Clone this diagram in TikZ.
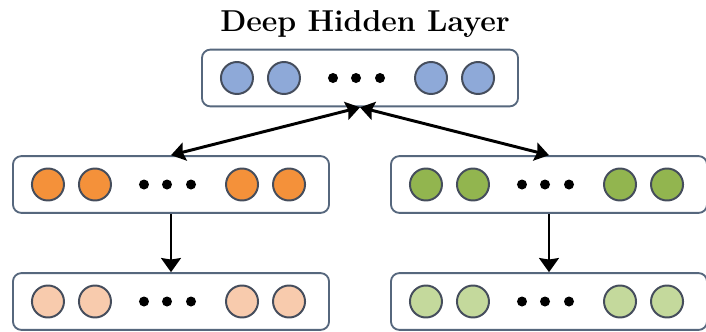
\documentclass[tikz,border=0pt]{standalone}
\usepackage{xcolor}
\usetikzlibrary{arrows.meta,positioning}

\definecolor{boxline}{HTML}{56677D}
\definecolor{unitline}{HTML}{454D5C}
\definecolor{deepblue}{HTML}{8EA9D8}
\definecolor{orangeA}{HTML}{F4913A}
\definecolor{orangeB}{HTML}{F8CBAD}
\definecolor{greenA}{HTML}{92B54F}
\definecolor{greenB}{HTML}{C4D99C}

\tikzset{
  layerbox/.style={draw=boxline,line width=1.3pt,rounded corners=6pt,fill=white,
    minimum width=7.9cm,minimum height=1.42cm,inner sep=0pt},
  unit/.style={circle,draw=unitline,line width=1.4pt,minimum size=0.8cm,inner sep=0pt},
  dot/.style={circle,fill=black,minimum size=0.25cm,inner sep=0pt},
  link/.style={line width=2.1pt,{Stealth[length=10pt,width=13pt,inset=1.5pt]}-{Stealth[length=10pt,width=13pt,inset=1.5pt]}},
  down/.style={line width=2.1pt,-{Stealth[length=10pt,width=14pt,inset=1pt]}}
}

% one row of units inside a box: #1 box name, #2 unit colour
\newcommand{\unitrow}[2]{%
  \node[unit,fill=#2] (#1u1) at ([xshift=-3.075cm]#1.center) {};
  \node[unit,fill=#2] (#1u2) at ([xshift=-1.9cm]#1.center) {};
  \node[dot] (#1d1) at ([xshift=-0.675cm]#1.center) {};
  \node[dot] (#1d2) at ([xshift=-0.1cm]#1.center) {};
  \node[dot] (#1d3) at ([xshift=0.5cm]#1.center) {};
  \node[unit,fill=#2] (#1u3) at ([xshift=1.775cm]#1.center) {};
  \node[unit,fill=#2] (#1u4) at ([xshift=2.95cm]#1.center) {};
}

\begin{document}
\begin{tikzpicture}[x=0.025cm,y=-0.025cm]
\useasboundingbox (0,0) rectangle (706,331);

\node[font=\fontsize{21.5}{26}\selectfont\bfseries] (title) at (365,24) {Deep Hidden Layer};

\node[layerbox] (top) at (360,78) {};
\unitrow{top}{deepblue}

\node[layerbox] (midL) at (171,184.5) {};
\unitrow{midL}{orangeA}
\node[layerbox] (midR) at (549,184.5) {};
\unitrow{midR}{greenA}

\node[layerbox] (botL) at (171,301.5) {};
\unitrow{botL}{orangeB}
\node[layerbox] (botR) at (549,301.5) {};
\unitrow{botR}{greenB}

\draw[link] (midL.north) -- (top.south);
\draw[link] (midR.north) -- (top.south);
\draw[down] (midL.south) -- (botL.north);
\draw[down] (midR.south) -- (botR.north);
\end{tikzpicture}
\end{document}
